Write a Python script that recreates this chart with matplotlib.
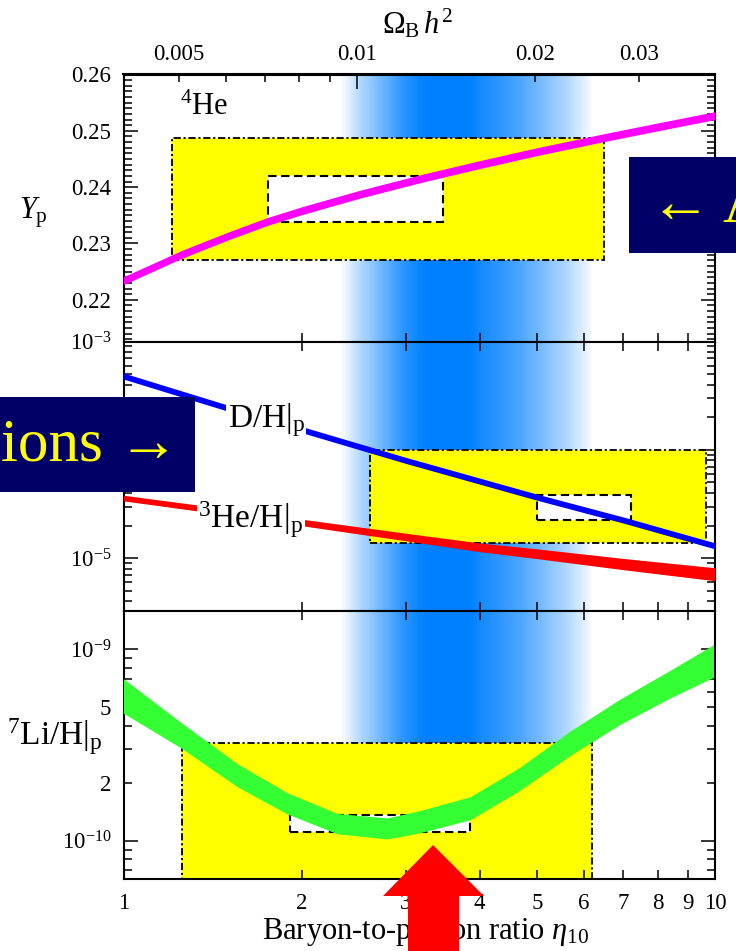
import numpy as np
import matplotlib
matplotlib.use('Agg')
import matplotlib.pyplot as plt
from matplotlib.patches import Rectangle, Polygon
from matplotlib.colors import LinearSegmentedColormap
from matplotlib.ticker import FixedLocator, FixedFormatter, NullFormatter

plt.rcParams['font.family'] = ['Liberation Serif', 'DejaVu Serif']
plt.rcParams['mathtext.fontset'] = 'custom'
plt.rcParams['mathtext.rm'] = 'Liberation Serif'
plt.rcParams['mathtext.it'] = 'Liberation Serif:italic'
plt.rcParams['mathtext.bf'] = 'Liberation Serif:bold'

# ---- data ----
# 4He mass fraction
eta_he = [1, 1.25, 1.5, 1.75, 2, 2.5, 3.175, 4, 5, 6.43, 8, 10]
yp = [0.2234, 0.2280, 0.2313, 0.2339, 0.2358, 0.2387, 0.2415, 0.2440,
      0.2463, 0.2487, 0.2507, 0.2527]
yp_hw = 0.0007

# D/H and 3He/H
eta_dh = [1, 1.5, 2, 3, 4, 5, 7, 10]
dh = [4.8e-4, 2.43e-4, 1.54e-4, 8.0e-5, 5.15e-5, 3.66e-5, 2.25e-5, 1.30e-5]
dh_hw = 0.028  # half width, decades
he3 = [3.59e-5, 2.67e-5, 2.14e-5, 1.57e-5, 1.26e-5, 1.10e-5, 8.83e-6, 7.11e-6]
he3_hw = [0.026, 0.028, 0.03, 0.035, 0.04, 0.045, 0.052, 0.06]

# 7Li/H
eta_li = [1.0, 1.256, 1.557, 1.89, 2.296, 2.79, 3.175, 3.857, 4.68, 5.68,
          6.90, 8.38, 9.94]
li = [5.70e-10, 3.53e-10, 2.20e-10, 1.57e-10, 1.23e-10, 1.16e-10, 1.26e-10,
      1.48e-10, 2.11e-10, 3.22e-10, 4.71e-10, 6.56e-10, 8.69e-10]
li_hw = [0.09, 0.066, 0.06, 0.055, 0.053, 0.055, 0.058, 0.06, 0.06, 0.064,
         0.066, 0.072, 0.085]

# observational boxes: (eta_lo, eta_hi, y_lo, y_hi)
he_box = (1.21, 6.49, 0.2271, 0.2488)
he_box_in = (1.756, 3.475, 0.2338, 0.2420)
dh_box = (2.614, 9.64, 1.38e-5, 1.0e-4)
dh_box_in = (4.997, 7.22, 2.23e-5, 3.86e-5)
li_box = (1.256, 6.2, 1e-11, 3.24e-10)
li_box_in = (1.909, 3.857, 1.11e-10, 1.36e-10)

# CMB band shading (eta, strength)
band_eta = [2.326, 2.513, 2.717, 2.937, 3.175, 3.302, 3.856, 4.009, 4.334,
            4.685, 5.163, 5.690, 6.151, 6.198]
band_level = [0.0, 0.3, 0.55, 0.8, 0.97, 1.0, 1.0, 0.92, 0.82, 0.7, 0.5,
              0.28, 0.05, 0.0]

omega_ratio = 248.0  # eta10 per Omega_B h^2 as drawn
x_ticks = [1, 2, 3, 4, 5, 6, 7, 8, 9, 10]
yp_ticks = [0.22, 0.23, 0.24, 0.25, 0.26]
yp_minor = [round(0.213 + 0.001 * i, 3) for i in range(47)]
mid_major = [1e-5, 1e-4, 1e-3]
mid_major_lbl = [r'$10^{-5}$', '', r'$10^{-3}$']
mid_minor = [m * 10.0 ** e for e in (-6, -5, -4) for m in range(2, 10)
             if 10 ** -5.487 < m * 10.0 ** e < 1e-3]
li_major = [1e-10, 1e-9]
li_major_lbl = [r'$10^{-10}$', r'$10^{-9}$']
li_minor = [7e-11, 8e-11, 9e-11] + [m * 1e-10 for m in range(2, 10)]
li_minor_lbl = ['', '', '', '2', '', '', '5', '', '', '', '']
om_minor = [0.005, 0.006, 0.007, 0.008, 0.009, 0.02, 0.03]
om_minor_lbl = ['0.005', '', '', '', '', '0.02', '0.03']

W, H = 736, 951
fig = plt.figure(figsize=(W / 100, H / 100), dpi=100)

left = 123.5 / W
width = (715 - 123.5) / W
def pos(top_px, bot_px):
    return [left, 1 - bot_px / H, width, (bot_px - top_px) / H]

ax1 = fig.add_axes(pos(74.5, 341.5))
ax2 = fig.add_axes(pos(341.5, 611))
ax3 = fig.add_axes(pos(611, 879.3))

band_cmap = LinearSegmentedColormap.from_list('band', ['white', '#0080ff'])
TICK_FS = 16.5
LAB_FS = 22

def draw_band(ax, y0, y1):
    edges = np.logspace(np.log10(band_eta[0]), np.log10(band_eta[-1]), 241)
    mids = np.sqrt(edges[:-1] * edges[1:])
    lev = np.interp(np.log10(mids), np.log10(band_eta), band_level)
    ax.pcolormesh(edges, [y0, y1], lev[None, :], cmap=band_cmap, vmin=0,
                  vmax=1, shading='flat', zorder=0, rasterized=True)

def draw_boxes(ax, outer, inner):
    x0, x1, y0, y1 = outer
    ax.add_patch(Rectangle((x0, y0), x1 - x0, y1 - y0, facecolor='#ffff00',
                           edgecolor='black', lw=1.3,
                           linestyle=(0, (4, 1.5, 1.2, 1.5)), zorder=1))
    x0, x1, y0, y1 = inner
    ax.add_patch(Rectangle((x0, y0), x1 - x0, y1 - y0, facecolor='white',
                           edgecolor='black', lw=1.5,
                           linestyle=(0, (4, 2.2)), zorder=2))

for ax in (ax1, ax2, ax3):
    ax.set_xscale('log')
    ax.set_xlim(1, 10)
    ax.xaxis.set_major_locator(FixedLocator(x_ticks))
    ax.xaxis.set_minor_locator(FixedLocator([]))
    ax.xaxis.set_major_formatter(NullFormatter())
    ax.tick_params(which='both', direction='in', top=True, right=True,
                   width=1.1, labelsize=TICK_FS, pad=9)
    ax.tick_params(axis='x', which='major', length=6.5)
    ax.tick_params(axis='y', which='major', length=10)
    ax.tick_params(axis='y', which='minor', length=5.5)
    for s in ax.spines.values():
        s.set_linewidth(1.5)

# top panel: 4He
ax1.set_ylim(0.2126, 0.26)
draw_band(ax1, 0.2126, 0.26)
draw_boxes(ax1, he_box, he_box_in)
ax1.fill_between(eta_he, np.array(yp) - yp_hw, np.array(yp) + yp_hw,
                 color='#ff00ff', lw=0, zorder=3)
ax1.yaxis.set_major_locator(FixedLocator(yp_ticks))
ax1.yaxis.set_minor_locator(FixedLocator(yp_minor))
ax1.yaxis.set_major_formatter(FixedFormatter(['%.2f' % v for v in yp_ticks]))
ax1.tick_params(axis='x', top=False)
ax1.text(1.248, 0.2542, r'$^4\mathrm{He}$', fontsize=LAB_FS, va='center',
         ha='left', zorder=5)

sec = ax1.secondary_xaxis('top', functions=(lambda x: x / omega_ratio,
                                            lambda x: x * omega_ratio))
sec.xaxis.set_major_locator(FixedLocator([0.01]))
sec.xaxis.set_minor_locator(FixedLocator(om_minor))
sec.xaxis.set_major_formatter(FixedFormatter(['0.01']))
sec.xaxis.set_minor_formatter(FixedFormatter(om_minor_lbl))
sec.tick_params(which='both', direction='in', width=1.1, labelsize=TICK_FS,
                pad=7)
sec.tick_params(which='major', length=11)
sec.tick_params(which='minor', length=6)
sec.spines['top'].set_linewidth(1.5)

# middle panel: D and 3He
ax2.set_yscale('log')
ax2.set_ylim(10 ** -5.487, 1e-3)
draw_band(ax2, 10 ** -5.487, 1e-3)
draw_boxes(ax2, dh_box, dh_box_in)
dh_a = np.array(dh)
ax2.fill_between(eta_dh, dh_a * 10 ** -dh_hw, dh_a * 10 ** dh_hw,
                 color='#0000ff', lw=0, zorder=3)
he3_a = np.array(he3)
hw3 = np.array(he3_hw)
ax2.fill_between(eta_dh, he3_a * 10 ** -hw3, he3_a * 10 ** hw3,
                 color='#ff0000', lw=0, zorder=3)
ax2.yaxis.set_major_locator(FixedLocator(mid_major))
ax2.yaxis.set_major_formatter(FixedFormatter(mid_major_lbl))
ax2.yaxis.set_minor_locator(FixedLocator(mid_minor))
ax2.yaxis.set_minor_formatter(NullFormatter())
ax2.text(1.50, 1.89e-4, r'$\mathrm{D/H}|_\mathrm{p}$', fontsize=24,
         va='center', ha='left', zorder=5,
         bbox=dict(facecolor='white', edgecolor='none', pad=1))
ax2.text(1.339, 2.26e-5, r'$^3\mathrm{He/H}|_\mathrm{p}$', fontsize=24,
         va='center', ha='left', zorder=5,
         bbox=dict(facecolor='white', edgecolor='none', pad=1))

# bottom panel: 7Li
ax3.set_yscale('log')
ax3.set_ylim(10 ** -10.201, 10 ** -8.8)
draw_band(ax3, 10 ** -10.201, 10 ** -8.8)
draw_boxes(ax3, li_box, li_box_in)
li_a = np.array(li)
lw_a = np.array(li_hw)
ax3.fill_between(eta_li, li_a * 10 ** -lw_a, li_a * 10 ** lw_a,
                 color='#33ff33', lw=0, zorder=3)
ax3.yaxis.set_major_locator(FixedLocator(li_major))
ax3.yaxis.set_major_formatter(FixedFormatter(li_major_lbl))
ax3.yaxis.set_minor_locator(FixedLocator(li_minor))
ax3.yaxis.set_minor_formatter(FixedFormatter(li_minor_lbl))
ax3.xaxis.set_major_formatter(FixedFormatter([str(t) for t in x_ticks]))
ax3.tick_params(axis='x', pad=10)

# axis titles
fig.text(33 / W, 1 - 213 / H, r'$Y_\mathrm{p}$', fontsize=LAB_FS,
         ha='center', va='center')
fig.text(55 / W, 1 - 737 / H, r'$^7\mathrm{Li/H}|_\mathrm{p}$', fontsize=24,
         ha='center', va='center')
fig.text(426 / W, 1 - 931 / H, r'Baryon-to-photon ratio $\eta_{10}$',
         fontsize=LAB_FS, ha='center', va='center')
fig.text(417 / W, 1 - 24 / H, r'$\Omega_\mathrm{B}\,h^2$', fontsize=LAB_FS,
         ha='center', va='center')

# slide overlays
navy = '#000066'
fig.add_artist(Rectangle((0, 1 - 492 / H), 195 / W, 95 / H,
                         transform=fig.transFigure, facecolor=navy,
                         edgecolor='none', zorder=10))
fig.text(1 / W, 1 - 446 / H, 'ions \u2192', fontsize=44, color='#ffff00',
         ha='left', va='center', zorder=11)
fig.add_artist(Rectangle((629 / W, 1 - 253 / H), (W - 629) / W, 96 / H,
                         transform=fig.transFigure, facecolor=navy,
                         edgecolor='none', zorder=10))
fig.text(650 / W, 1 - 207 / H, '\u2190 A', fontsize=44, color='#ffff00',
         ha='left', va='center', zorder=11)
arrow_px = [(433, 845), (383, 896), (408, 896), (408, 951), (459, 951),
            (459, 896), (484, 896)]
fig.add_artist(Polygon([(x / W, 1 - y / H) for x, y in arrow_px], closed=True,
                       transform=fig.transFigure, facecolor='#ff0000',
                       edgecolor='none', zorder=10))

fig.savefig('out.png', dpi=100)
